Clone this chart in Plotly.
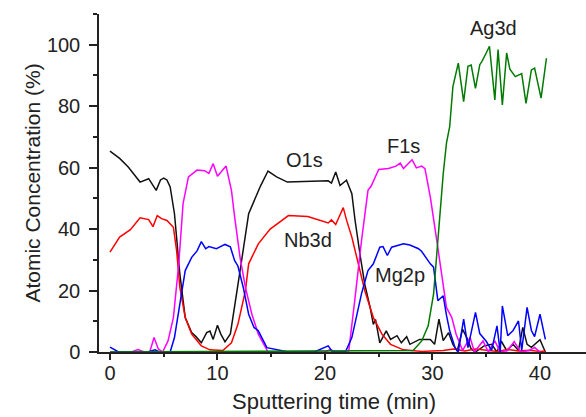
import plotly.graph_objects as go

# Sputtering time (min) and atomic concentration (%) for each XPS line
o1s_t = [0, 0.9, 1.7, 2.8, 3.6, 4.3, 4.7, 5.0, 5.3, 5.6, 6.0, 6.5, 7.0, 7.6, 8.0, 8.5,
         9.0, 9.3, 9.6, 10.0, 10.3, 10.7, 11.2, 11.6, 12.2, 12.9, 13.5, 14.0, 14.7, 15.5,
         16.5, 18.0, 20.3, 20.6, 21.0, 21.4, 22.0, 22.5, 22.8, 23.3, 23.7, 24.2, 24.5, 24.7,
         25.1, 25.7, 26.1, 26.7, 27.1, 27.6, 27.9, 28.8, 29.8, 30.2, 30.6, 31.0, 31.5, 31.9,
         32.3, 32.8, 33.2, 33.6, 34.0, 34.8, 35.5, 36.0, 36.4, 36.9, 37.5, 38.0, 38.4, 38.8,
         39.2, 40.0, 40.5]
o1s_v = [65.4, 63, 60.2, 55.3, 56.4, 52.6, 56, 56.6, 56, 53.7, 45, 25.4, 11.2, 6.3, 5, 3.0,
         6.3, 6.8, 4.1, 8.7, 5.9, 3.3, 5.9, 14.5, 28.7, 45, 49.9, 54, 58.9, 57,
         55.3, 55.5, 55.7, 55, 58.6, 54.2, 55.9, 51.5, 42.8, 30.8, 22.1, 14.5, 9.0, 10.6,
         3.0, 6.9, 4.1, 5.3, 3.0, 5, 2.5, 4.1, 4.1, 2.5, 10.7, 3.7, 6.3, 2.5,
         0.3, 7.4, 4.6, 1, 0, 2, 2.5, 0, 3.5, 0.5, 2.5, 0.5, 8, 2.5,
         1.5, 4, 0]

nb3d_t = [0, 0.9, 1.9, 2.8, 3.6, 4.0, 4.4, 4.8, 5.3, 5.9, 6.2, 6.5, 7.0, 7.6, 8.5, 9.3,
          10.5, 11.3, 11.9, 12.6, 12.9, 13.8, 14.9, 16.6, 18.4, 20.3, 20.6, 21.0, 21.7,
          22.0, 22.5, 23.1, 23.7, 24.5, 25.3, 26.1, 27.3, 29.0, 31.0, 32.0, 33.0, 34.0,
          35.0, 36.0, 37.0, 38.0, 39.0, 40.0, 40.5]
nb3d_v = [32.5, 37.4, 39.8, 43.7, 43.1, 40.8, 44.4, 43.4, 42.8, 40.6, 33, 21, 11.2, 5.8, 2,
          0.7, 0.5, 3, 9, 20, 28.7, 35.2, 40, 44.4, 44.1, 42, 43, 41.5, 47,
          43, 37.4, 28.7, 20, 11.2, 5.8, 2.5, 0.7, 0.2, 0.5, 1, 0.3, 1,
          0.5, 0.2, 0.8, 0.3, 0.6, 0.2, 0.3]

f1s_t = [0, 2.0, 2.6, 3.2, 3.7, 4.1, 4.5, 4.9, 5.4, 5.9, 6.4, 6.8, 7.3, 8.1, 8.8, 9.2,
         9.6, 10.0, 10.8, 11.3, 11.6, 12.1, 12.6, 13.2, 13.8, 14.7, 20.0, 20.5, 21.0,
         22.2, 22.8, 23.4, 24.0, 24.3, 25.0, 25.9, 26.6, 27.0, 27.3, 28.1, 28.5, 29.0,
         29.3, 29.8, 30.4, 30.9, 31.3, 31.8, 32.2, 32.8, 33.5, 33.9, 34.7, 35.2, 35.8,
         36.3, 37.0, 37.6, 38.2, 39.0, 39.5, 40.0]
f1s_v = [0, 0, 0.8, 0, 0, 4.7, 1, 0, 3.6, 11.2, 28.7, 48.3, 57, 59.2, 59.0, 58.1,
         61.3, 57.2, 60.5, 52.6, 43.9, 30.8, 21, 12.3, 5.8, 0, 0, 0.8, 0,
         0, 17.7, 36.3, 52.6, 54, 59.4, 59.7, 60.5, 61.5, 59.7, 62.6, 59.9, 60.5,
         59.7, 50.4, 36.3, 24.3, 14.5, 11.2, 5.8, 0.5, 4.7, 0, 3.6, 0, 3.6,
         0, 0.5, 3.4, 0, 0.5, 1.5, 0]

mg2p_t = [0, 0.8, 3.5, 4.2, 4.6, 5.6, 6.0, 6.5, 7.0, 7.6, 8.1, 8.5, 8.9, 9.2, 9.9, 10.7,
          11.2, 11.6, 11.9, 12.4, 12.9, 13.4, 13.8, 14.6, 16.0, 16.6, 19.0, 20.3, 20.7,
          21.9, 22.5, 23.1, 23.4, 24.0, 24.5, 25.1, 25.4, 25.8, 26.2, 27.3, 27.9, 28.7,
          29.0, 29.8, 30.1, 30.5, 31.0, 31.3, 31.6, 32.1, 32.4, 32.9, 33.3, 34.0, 34.4,
          35.0, 35.5, 36.0, 36.3, 36.5, 37.0, 37.5, 38.0, 38.3, 38.8, 39.2, 39.5, 40.0, 40.5]
mg2p_v = [1.6, 0, 0, 0.7, 0, 0, 4.7, 15.6, 26.5, 30.8, 32.9, 35.9, 33.6, 34.3, 33.6, 35,
          34.2, 29.7, 28, 21, 12.3, 8, 6.9, 1.4, 0.5, 0, 0, 2, 0,
          0, 4.7, 14.5, 19, 26.5, 28.7, 34.1, 34.3, 31.4, 34.1, 35.2, 34.8, 33.6,
          32.7, 28.7, 27.6, 16.7, 18.3, 12, 6.9, 1.4, 0, 10.7, 1.4, 12.9, 6,
          3.5, 0.5, 8.5, 0, 15, 5.3, 7, 10.1, 0.5, 14.5, 7, 5, 12.3, 4.1]

ag3d_t = [0, 28.2, 29.0, 29.6, 30.1, 30.5, 31.0, 31.3, 31.6, 31.9, 32.4, 32.9, 33.3, 33.6,
          34.0, 34.4, 34.6, 35.0, 35.3, 35.8, 36.1, 36.5, 36.9, 37.2, 37.7, 38.3, 38.7,
          39.2, 39.5, 40.1, 40.6]
ag3d_v = [0, 0.5, 3.6, 8.5, 18.8, 36.3, 58, 68, 73.3, 86.4, 94, 81.5, 93, 93.4,
          85.8, 93.5, 94.6, 97.3, 99.5, 82, 98.4, 80.4, 97.3, 92, 89.6, 90.6, 80.9,
          91.8, 92.4, 82.6, 95.6]

series = [
    ("O1s", o1s_t, o1s_v, "#111111"),
    ("Nb3d", nb3d_t, nb3d_v, "#ff0000"),
    ("F1s", f1s_t, f1s_v, "#ff00ff"),
    ("Mg2p", mg2p_t, mg2p_v, "#0000ff"),
    ("Ag3d", ag3d_t, ag3d_v, "#007a00"),
]

# Label text and its position (time, concentration)
label_names = ["O1s", "Nb3d", "F1s", "Mg2p", "Ag3d"]
label_t = [18.1, 18.4, 27.3, 27.0, 35.7]
label_v = [62.5, 36.3, 67.2, 25.0, 105.3]

FONT = "Liberation Sans, Arial, sans-serif"
INK = "#222222"

fig = go.Figure()
for name, t, v, color in series:
    fig.add_trace(go.Scatter(x=t, y=v, mode="lines", name=name,
                             line=dict(color=color, width=1.5)))

for name, t, v in zip(label_names, label_t, label_v):
    fig.add_annotation(x=t, y=v, text=name, showarrow=False,
                       xanchor="center", yanchor="middle",
                       font=dict(family=FONT, size=20, color=INK))

# x-axis title, set slightly left of the plot-area centre
fig.add_annotation(text="Sputtering time (min)", xref="paper", yref="paper",
                   x=0.4825, y=-0.147, xanchor="center", yanchor="middle",
                   showarrow=False, font=dict(family=FONT, size=22, color=INK))

axis_common = dict(
    showgrid=False, zeroline=False, showline=True, linecolor=INK,
    linewidth=1.5, ticks="outside", tickcolor=INK, tickwidth=1.5,
    layer="below traces", tickfont=dict(family=FONT, size=20, color=INK),
)

fig.update_xaxes(range=[-1.02, 44.28], dtick=10, tick0=0, ticklen=6,
                 ticklabelstandoff=-4,
                 minor=dict(dtick=5, tick0=0, ticks="outside", ticklen=3,
                            tickcolor=INK, tickwidth=1.5),
                 **axis_common)
fig.update_yaxes(range=[0, 110], dtick=20, tick0=0, ticklen=8,
                 ticklabelstandoff=5,
                 minor=dict(dtick=10, tick0=0, ticks="outside", ticklen=4,
                            tickcolor=INK, tickwidth=1.5),
                 title=dict(text="Atomic Concentration (%)", standoff=1,
                            font=dict(family=FONT, size=21, color=INK)),
                 **axis_common)

fig.update_layout(
    width=586, height=417,
    margin=dict(l=99, r=0, t=14, b=65),
    paper_bgcolor="white", plot_bgcolor="white",
    showlegend=False,
)

fig.write_html("out.html")
